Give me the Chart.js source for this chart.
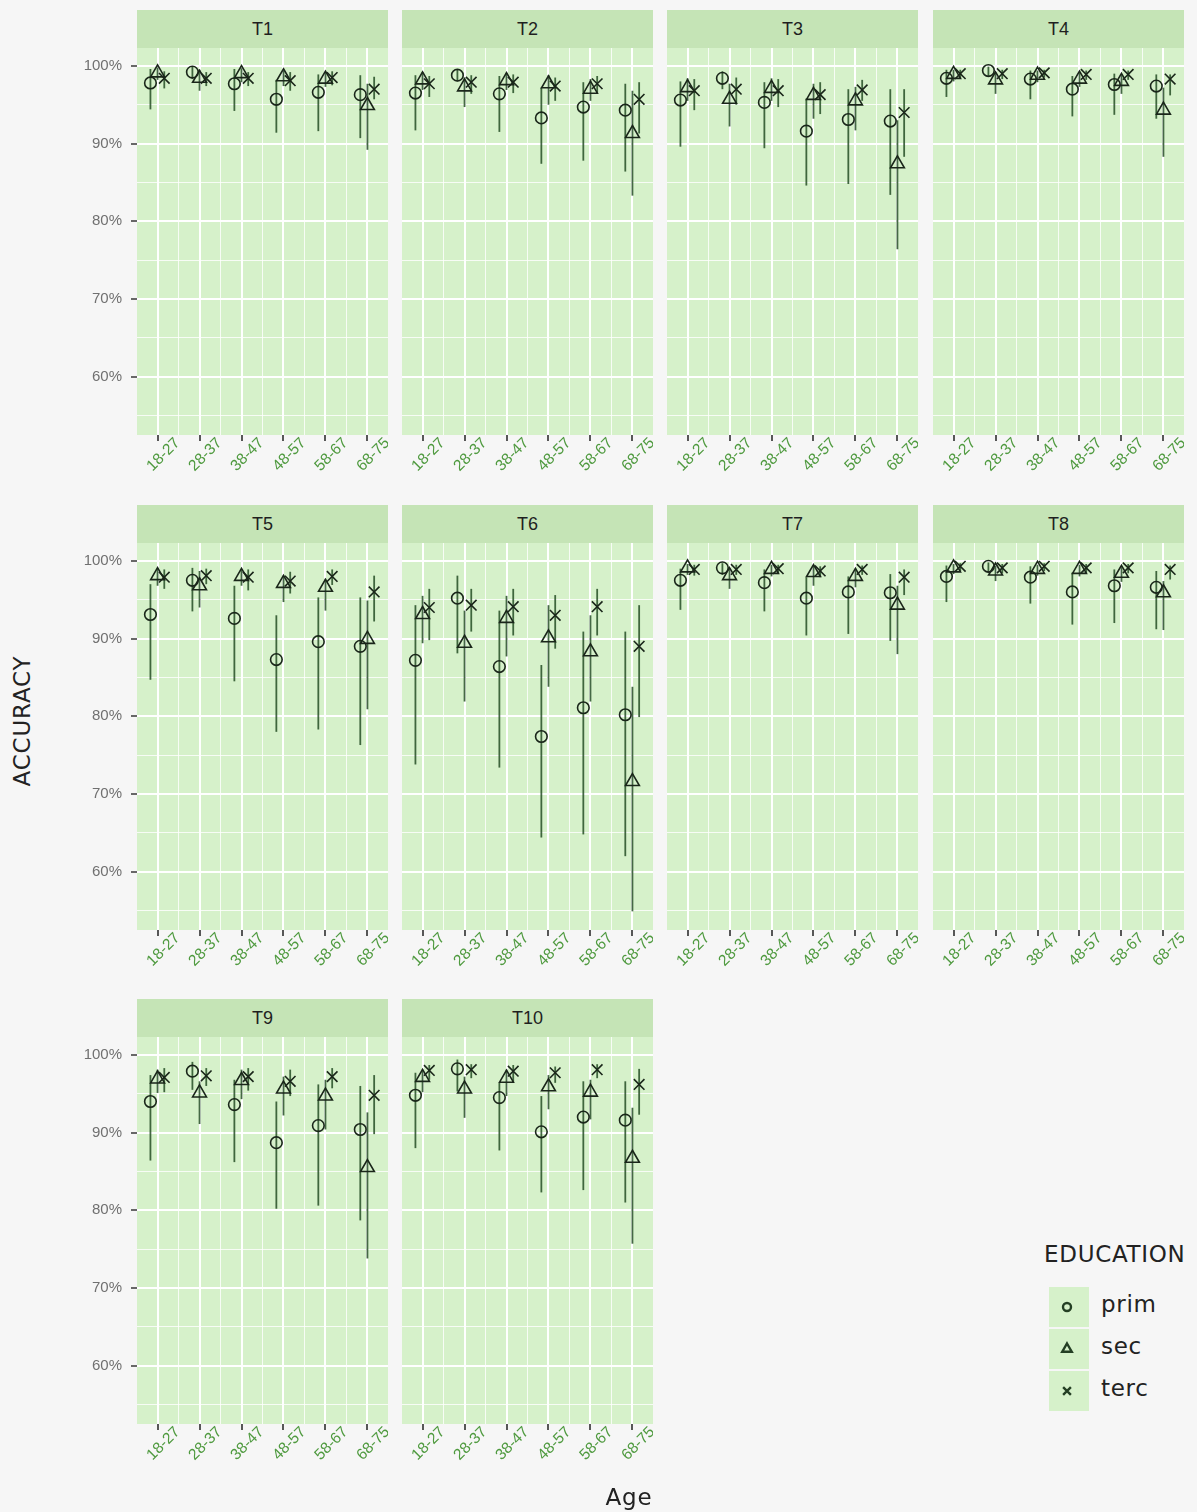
<!DOCTYPE html>
<html>
<head>
<meta charset="utf-8">
<script src="https://cdn.jsdelivr.net/npm/chart.js@4/dist/chart.umd.min.js"></script>
<style>
  html, body { margin: 0; padding: 0; }
  body { width: 1197px; height: 1512px; background: #f6f6f6; position: relative; overflow: hidden; }
  .panel-canvas { position: absolute; }
  .strip { position: absolute; background: #c5e4b6; color: #1f1f1f; font: 18px "Liberation Sans", Arial, sans-serif;
           display: flex; align-items: center; justify-content: center; }
  .title { position: absolute; color: #222; font: 23px "DejaVu Sans", sans-serif; letter-spacing: 0.8px; white-space: nowrap; }
  .legend-key { position: absolute; background: #d6f1ca; }
  .legend-label { position: absolute; color: #222; font: 23px "DejaVu Sans", sans-serif; letter-spacing: 0.7px; }
</style>
</head>
<body>
<script>
// ---- categories and series ----
const ageGroups = ['18-27', '28-37', '38-47', '48-57', '58-67', '68-75'];
const taskNames = ['T1', 'T2', 'T3', 'T4', 'T5', 'T6', 'T7', 'T8', 'T9', 'T10'];
const educationLevels = ['prim', 'sec', 'terc'];
const accuracyTicks = [60, 70, 80, 90, 100];

// accuracy in %, one row per task (T1..T10), one value per age group
const primMean = [
  [97.8, 99.2, 97.7, 95.7, 96.6, 96.3],
  [96.5, 98.8, 96.4, 93.3, 94.7, 94.3],
  [95.6, 98.4, 95.3, 91.6, 93.1, 92.9],
  [98.4, 99.4, 98.3, 97.0, 97.6, 97.4],
  [93.1, 97.5, 92.6, 87.3, 89.6, 89.0],
  [87.2, 95.2, 86.4, 77.4, 81.1, 80.2],
  [97.5, 99.1, 97.2, 95.2, 96.0, 95.9],
  [98.0, 99.3, 97.9, 96.0, 96.8, 96.6],
  [94.0, 97.9, 93.6, 88.7, 90.9, 90.4],
  [94.8, 98.2, 94.5, 90.1, 92.0, 91.6]
];
const primLow = [
  [94.4, 98.3, 94.2, 91.4, 91.6, 90.7],
  [91.7, 98.0, 91.5, 87.4, 87.8, 86.4],
  [89.6, 97.0, 89.4, 84.6, 84.8, 83.4],
  [96.0, 98.6, 95.7, 93.5, 93.7, 93.2],
  [84.7, 93.5, 84.5, 78.0, 78.3, 76.3],
  [73.8, 88.1, 73.4, 64.4, 64.8, 62.0],
  [93.7, 98.2, 93.5, 90.4, 90.6, 89.7],
  [94.7, 98.5, 94.5, 91.8, 92.0, 91.2],
  [86.4, 95.5, 86.2, 80.2, 80.6, 78.7],
  [88.0, 95.3, 87.7, 82.3, 82.6, 81.0]
];
const primHigh = [
  [99.6, 99.9, 99.6, 98.2, 98.9, 98.8],
  [98.8, 99.5, 98.7, 97.2, 97.9, 97.7],
  [98.0, 99.3, 97.9, 95.8, 97.0, 97.0],
  [99.5, 99.9, 99.4, 98.7, 99.0, 98.9],
  [97.0, 99.1, 96.8, 93.0, 95.3, 95.3],
  [94.3, 98.1, 93.6, 86.6, 90.9, 90.9],
  [99.0, 99.7, 98.9, 97.9, 98.0, 98.3],
  [99.4, 99.8, 99.3, 98.5, 98.9, 98.7],
  [97.4, 99.1, 96.8, 94.0, 96.2, 96.0],
  [97.7, 99.4, 96.4, 94.7, 96.6, 96.6]
];
const secMean = [
  [99.1, 98.4, 99.0, 98.6, 98.3, 94.9],
  [98.2, 97.3, 98.1, 97.7, 97.0, 91.3],
  [97.2, 95.7, 97.1, 96.2, 95.5, 87.4],
  [98.9, 98.2, 98.8, 98.3, 98.0, 94.3],
  [98.1, 96.8, 98.0, 97.1, 96.6, 89.9],
  [93.1, 89.4, 92.6, 90.1, 88.3, 71.6],
  [99.1, 98.1, 98.9, 98.5, 98.0, 94.3],
  [99.1, 98.7, 98.9, 98.9, 98.4, 95.9],
  [96.9, 95.1, 96.7, 95.6, 94.7, 85.5],
  [97.1, 95.6, 97.0, 95.9, 95.2, 86.7]
];
const secLow = [
  [98.2, 96.8, 97.9, 97.4, 97.3, 89.2],
  [96.9, 94.7, 96.9, 95.0, 95.5, 83.3],
  [95.5, 92.2, 95.5, 93.2, 91.7, 76.4],
  [98.0, 96.4, 97.9, 97.3, 96.4, 88.3],
  [96.8, 94.0, 96.8, 94.7, 93.6, 80.9],
  [89.4, 81.9, 87.7, 83.8, 81.9, 54.9],
  [98.2, 96.4, 98.0, 96.8, 96.6, 88.0],
  [98.3, 97.4, 98.1, 98.0, 97.3, 91.1],
  [95.1, 91.1, 94.3, 92.2, 90.4, 73.8],
  [95.2, 91.9, 94.7, 93.0, 91.7, 75.7]
];
const secHigh = [
  [99.8, 99.5, 99.7, 99.4, 99.2, 97.7],
  [99.2, 98.5, 99.1, 98.8, 98.3, 96.8],
  [98.4, 97.7, 98.4, 97.7, 97.3, 93.0],
  [99.5, 99.2, 99.4, 99.1, 98.9, 97.2],
  [99.0, 98.7, 98.9, 98.1, 97.7, 94.9],
  [95.5, 93.6, 95.5, 94.3, 93.0, 83.8],
  [99.6, 99.0, 99.5, 99.4, 99.0, 96.8],
  [99.6, 99.4, 99.5, 99.5, 99.2, 97.4],
  [98.1, 96.6, 98.1, 97.2, 96.8, 92.6],
  [98.1, 97.2, 98.1, 97.4, 96.8, 93.2]
];
const tercMean = [
  [98.4, 98.4, 98.4, 98.1, 98.5, 97.0],
  [97.7, 97.9, 97.9, 97.4, 97.7, 95.7],
  [96.8, 97.0, 96.8, 96.3, 96.9, 94.0],
  [99.0, 99.0, 99.1, 98.9, 98.9, 98.3],
  [97.9, 98.1, 97.9, 97.4, 98.0, 96.0],
  [94.0, 94.3, 94.1, 93.0, 94.1, 89.0],
  [98.9, 98.9, 99.0, 98.7, 98.9, 97.9],
  [99.3, 99.1, 99.3, 99.1, 99.1, 98.9],
  [97.1, 97.3, 97.2, 96.6, 97.2, 94.8],
  [98.0, 98.1, 97.9, 97.7, 98.1, 96.2]
];
const tercLow = [
  [97.1, 97.4, 97.4, 96.8, 97.5, 95.7],
  [96.0, 96.4, 96.5, 95.5, 96.5, 91.3],
  [94.3, 95.0, 94.7, 93.8, 95.5, 88.3],
  [98.4, 98.3, 98.5, 98.2, 98.2, 96.2],
  [96.4, 97.0, 96.2, 95.8, 96.9, 92.2],
  [89.8, 90.9, 90.4, 88.7, 90.4, 79.9],
  [98.1, 98.2, 98.3, 97.9, 98.2, 95.6],
  [98.7, 98.4, 98.7, 98.4, 98.4, 97.6],
  [95.2, 96.0, 95.4, 94.7, 95.7, 89.8],
  [96.8, 97.0, 96.5, 96.4, 97.0, 92.3]
];
const tercHigh = [
  [99.3, 99.2, 99.2, 99.2, 99.3, 98.6],
  [98.7, 98.8, 98.9, 98.5, 98.7, 97.9],
  [98.3, 98.5, 98.3, 97.9, 98.2, 97.0],
  [99.5, 99.5, 99.5, 99.4, 99.4, 98.9],
  [98.9, 99.0, 98.9, 98.6, 98.9, 98.1],
  [96.4, 96.4, 96.4, 95.6, 96.4, 94.3],
  [99.5, 99.5, 99.5, 99.3, 99.4, 98.9],
  [99.7, 99.6, 99.7, 99.6, 99.6, 99.4],
  [98.3, 98.3, 98.3, 98.1, 98.3, 97.4],
  [98.7, 98.8, 98.7, 98.5, 98.8, 98.2]
];

// ---- look and layout ----
const PANEL_BG = '#d6f1ca';
const MARK_COLOR = '#1a261a';
const BAR_COLOR = 'rgba(36, 78, 36, 0.85)';
const COL_LEFT = [137, 402, 667, 933];
const ROW_TOP = [48, 543, 1037];
const PANEL_W = 251, PANEL_H = 387, STRIP_H = 38;
const Y_AXIS_W = 56, X_AXIS_H = 70;
const X_MIN = -0.49, X_MAX = 5.49, Y_MIN = 52.5, Y_MAX = 102.3;

const series = {
  prim: { mean: primMean, low: primLow, high: primHigh, style: 'circle',   radius: 5.8, dodge: -0.17 },
  sec:  { mean: secMean,  low: secLow,  high: secHigh,  style: 'triangle', radius: 8,   dodge: 0 },
  terc: { mean: tercMean, low: tercLow, high: tercHigh, style: 'crossRot', radius: 7.5, dodge: 0.16 }
};

// panel background under the grid
const panelFill = {
  id: 'panelFill',
  beforeDraw(chart) {
    const { ctx, chartArea: a } = chart;
    ctx.save();
    ctx.fillStyle = PANEL_BG;
    ctx.fillRect(a.left, a.top, a.right - a.left, a.bottom - a.top);
    ctx.restore();
  }
};

// vertical interval lines behind the markers
const intervalBars = {
  id: 'intervalBars',
  beforeDatasetsDraw(chart) {
    const { ctx, scales: { x, y } } = chart;
    ctx.save();
    ctx.strokeStyle = BAR_COLOR;
    ctx.lineWidth = 1.8;
    chart.data.datasets.forEach(ds => {
      ds.data.forEach((p, i) => {
        const px = x.getPixelForValue(p.x);
        ctx.beginPath();
        ctx.moveTo(px, y.getPixelForValue(ds.errLow[i]));
        ctx.lineTo(px, y.getPixelForValue(ds.errHigh[i]));
        ctx.stroke();
      });
    });
    ctx.restore();
  }
};

const xGridValues = [0, 0.5, 1, 1.5, 2, 2.5, 3, 3.5, 4, 4.5, 5];
const yGridValues = [55, 60, 65, 70, 75, 80, 85, 90, 95, 100];

function makePanel(t) {
  const row = Math.floor(t / 4), col = t % 4;
  const left = COL_LEFT[col], top = ROW_TOP[row];

  const strip = document.createElement('div');
  strip.className = 'strip';
  strip.textContent = taskNames[t];
  Object.assign(strip.style, { left: left + 'px', top: (top - STRIP_H) + 'px', width: PANEL_W + 'px', height: STRIP_H + 'px' });
  document.body.appendChild(strip);

  const canvas = document.createElement('canvas');
  canvas.className = 'panel-canvas';
  canvas.width = Y_AXIS_W + PANEL_W;
  canvas.height = PANEL_H + X_AXIS_H;
  Object.assign(canvas.style, { left: (left - Y_AXIS_W) + 'px', top: top + 'px',
    width: canvas.width + 'px', height: canvas.height + 'px' });
  document.body.appendChild(canvas);

  const showY = col === 0;
  const datasets = educationLevels.map(level => {
    const s = series[level];
    return {
      label: level,
      data: ageGroups.map((g, i) => ({ x: i + s.dodge, y: s.mean[t][i] })),
      errLow: s.low[t],
      errHigh: s.high[t],
      pointStyle: s.style,
      pointRadius: s.radius,
      pointBorderWidth: 1.6,
      pointBorderColor: MARK_COLOR,
      pointBackgroundColor: 'rgba(0,0,0,0)',
      showLine: false,
      clip: false
    };
  });

  new Chart(canvas, {
    type: 'scatter',
    data: { datasets },
    options: {
      responsive: false,
      animation: false,
      events: [],
      layout: { padding: 0, autoPadding: false },
      plugins: { legend: { display: false }, tooltip: { enabled: false }, title: { display: false } },
      scales: {
        x: {
          type: 'linear', min: X_MIN, max: X_MAX,
          afterBuildTicks: s => { s.ticks = xGridValues.map(v => ({ value: v })); },
          afterFit: s => { s.height = X_AXIS_H; s.paddingLeft = 0; s.paddingRight = 0; },
          border: { display: false },
          grid: {
            color: c => Number.isInteger(c.tick.value) ? '#ffffff' : 'rgba(255,255,255,0.8)',
            lineWidth: c => Number.isInteger(c.tick.value) ? 2 : 1,
            drawTicks: true,
            tickLength: 6,
            tickWidth: 1.6,
            tickColor: c => Number.isInteger(c.tick.value) ? '#2f2f2f' : 'rgba(0,0,0,0)'
          },
          ticks: {
            autoSkip: false, minRotation: 45, maxRotation: 45,
            padding: -7, labelOffset: 20,
            color: '#4f9a3f',
            font: { family: 'Liberation Sans', size: 15.5 },
            callback: v => Number.isInteger(v) ? ageGroups[v] : ''
          }
        },
        y: {
          min: Y_MIN, max: Y_MAX,
          afterBuildTicks: s => { s.ticks = yGridValues.map(v => ({ value: v })); },
          afterFit: s => { s.width = Y_AXIS_W; s.paddingTop = 0; s.paddingBottom = 0; },
          border: { display: false },
          grid: {
            color: c => c.tick.value % 10 === 0 ? '#ffffff' : 'rgba(255,255,255,0.8)',
            lineWidth: c => c.tick.value % 10 === 0 ? 2 : 1,
            drawTicks: true,
            tickLength: 6,
            tickWidth: 1.6,
            tickColor: c => (showY && c.tick.value % 10 === 0) ? '#444' : 'rgba(0,0,0,0)'
          },
          ticks: {
            display: showY,
            padding: 9,
            color: '#707070',
            font: { family: 'Liberation Sans', size: 15 },
            callback: v => accuracyTicks.includes(v) ? v + '%' : ''
          }
        }
      }
    },
    plugins: [panelFill, intervalBars]
  });
}

taskNames.forEach((_, t) => makePanel(t));

// axis titles
function addText(cls, text, styles) {
  const d = document.createElement('div');
  d.className = cls;
  d.textContent = text;
  Object.assign(d.style, styles);
  document.body.appendChild(d);
  return d;
}
addText('title', 'ACCURACY', { left: '22px', top: '721px', transform: 'translate(-50%, -50%) rotate(-90deg)' });
addText('title', 'Age', { left: '629px', top: '1497px', transform: 'translate(-50%, -50%)' });

// legend
addText('title', 'EDUCATION', { left: '1044px', top: '1241px', letterSpacing: '0.7px' });
educationLevels.forEach((level, i) => {
  const keyTop = 1287 + i * 42;
  const key = document.createElement('canvas');
  key.className = 'legend-key';
  key.width = 40; key.height = 40;
  Object.assign(key.style, { left: '1049px', top: keyTop + 'px', width: '40px', height: '40px' });
  document.body.appendChild(key);
  const kctx = key.getContext('2d');
  kctx.fillStyle = PANEL_BG;
  kctx.fillRect(0, 0, 40, 40);
  kctx.strokeStyle = '#243f24';
  kctx.fillStyle = 'rgba(0,0,0,0)';
  kctx.lineWidth = 2.4;
  const s = series[level];
  Chart.helpers.drawPoint(kctx, { pointStyle: s.style, radius: level === 'prim' ? 4 : 5.5, borderWidth: 2.4, rotation: 0 }, 18, 20);
  addText('legend-label', level, { left: '1101px', top: (keyTop + 4) + 'px' });
});
</script>
</body>
</html>
